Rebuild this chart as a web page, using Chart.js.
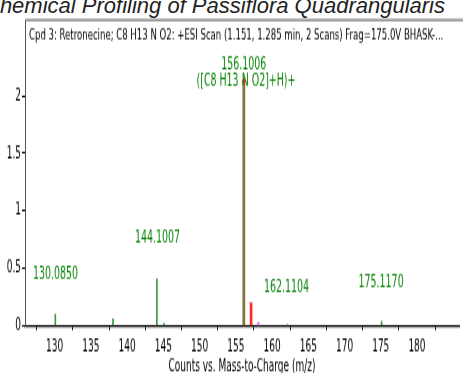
<!DOCTYPE html>
<html>
<head>
<meta charset="utf-8">
<script src="https://cdn.jsdelivr.net/npm/chart.js@4.4.1/dist/chart.umd.min.js"></script>
<style>
  html, body { margin: 0; padding: 0; background: #fff; overflow: hidden; }
  body { width: 463px; height: 373px; position: relative; }
  #page-head {
    position: absolute; left: -16px; top: -5px; white-space: nowrap;
    font: italic 22px/22px "Liberation Sans", Arial, sans-serif; color: #222;
  }
  #wrap {
    position: absolute; left: 0; top: 0; width: 463px; height: 226px;
    transform: scaleY(1.65); transform-origin: 0 0;
  }
</style>
</head>
<body>
<div id="page-head">Chemical Profiling of Passiflora Quadrangularis</div>
<div id="wrap"><canvas id="spec" width="463" height="226"></canvas></div>
<script>
// spettro di massa
const titolo = 'Cpd 3: Retronecine; C8 H13 N O2: +ESI Scan (1.151, 1.285 min, 2 Scans) Frag=175.0V BHASK-...';
const asseX = 'Counts vs. Mass-to-Charge (m/z)';

// picchi osservati (verdi)
const mzVerdi = [130.085, 138.05, 144.1007, 145.1, 156.1006, 162.1104, 175.117];
const intVerdi = [0.10, 0.06, 0.41, 0.02, 2.15, 0.01, 0.04];
// picchi attesi (rossi) e altro isotopo (rosa)
const mzRossi = [156.1006, 157.104];
const intRossi = [2.13, 0.20];
const mzRosa = [158.1];
const intRosa = [0.03];

// etichette dei picchi
const etichetteTesto = ['130.0850', '144.1007', '156.1006', '([C8 H13 N O2]+H)+', '162.1104', '175.1170'];
const etichetteX = [130.1, 144.2, 156.1, 156.4, 162.0, 175.05];
const etichetteY = [0.45, 0.76, 2.27, 2.13, 0.33, 0.38];

const tickX = [130, 135, 140, 145, 150, 155, 160, 165, 170, 175, 180, 185];
const tickXEtichette = ['130', '135', '140', '145', '150', '155', '160', '165', '170', '175', '180', ''];
const tickY = [0, 0.5, 1, 1.5, 2];
const tickYEtichette = ['0', '0.5', '1', '1.5', '2'];

const FONT = "'Liberation Sans Narrow', 'DejaVu Sans Condensed', Arial, sans-serif";
const VERDE = '#0a870a';

function punti(xs, ys) {
    return xs.map((x, i) => ({ x: x, y: ys[i] }));
}

// disegna la cornice, il titolo e le etichette dei picchi
const pluginTesti = {
    id: 'testi',
    afterDraw(chart) {
        const ctx = chart.ctx;
        const sx = chart.scales.x, sy = chart.scales.y;
        ctx.save();
        // cornice in alto
        ctx.strokeStyle = '#555';
        ctx.lineWidth = 1;
        ctx.beginPath();
        ctx.moveTo(sx.left + 0.5, chart.chartArea.bottom);
        ctx.lineTo(sx.left + 0.5, 12.1);
        ctx.lineTo(chart.width, 12.1);
        ctx.stroke();
        ctx.fillStyle = '#000';
        ctx.font = '9.5px ' + FONT;
        ctx.textBaseline = 'alphabetic';
        ctx.textAlign = 'left';
        ctx.fillText(titolo, 29, 23.6);
        // etichette
        ctx.fillStyle = VERDE;
        ctx.font = '10.5px ' + FONT;
        ctx.textAlign = 'center';
        ctx.textBaseline = 'middle';
        etichetteTesto.forEach((t, i) => {
            ctx.fillText(t, sx.getPixelForValue(etichetteX[i]), sy.getPixelForValue(etichetteY[i]));
        });
        ctx.restore();
    }
};

new Chart(document.getElementById('spec'), {
    type: 'bar',
    data: {
        datasets: [
            {
                type: 'scatter',
                label: 'apice',
                data: [{ x: mzRossi[0], y: intRossi[0] }],
                pointStyle: 'triangle',
                pointRadius: 2.6,
                backgroundColor: '#ff1a1a',
                borderColor: '#ff1a1a',
                borderWidth: 0,
                order: 0
            },
            { label: 'verdi', data: punti(mzVerdi, intVerdi), backgroundColor: '#3a9a3a', barThickness: 1, order: 1 },
            { label: 'rosa', data: punti(mzRosa, intRosa), backgroundColor: '#e28ce2', barThickness: 2, order: 2 },
            { label: 'rossi', data: punti(mzRossi, intRossi), backgroundColor: '#ff2a2a', barThickness: 2, order: 2 }
        ]
    },
    options: {
        responsive: false,
        animation: false,
        devicePixelRatio: 1,
        grouped: false,
        layout: { padding: { top: 27.3, left: 0, right: 0, bottom: 0 } },
        plugins: { legend: { display: false }, tooltip: { enabled: false } },
        scales: {
            x: {
                type: 'linear',
                min: 125.9,
                max: 185.8,
                offset: false,
                afterFit: s => { s.height = 28.4; },
                afterBuildTicks: s => { s.ticks = tickX.map(v => ({ value: v })); },
                grid: { drawOnChartArea: false, tickLength: 2.5, color: '#000', tickWidth: 1 },
                border: { color: '#000', width: 1.3 },
                ticks: {
                    autoSkip: false, maxRotation: 0, padding: 4, color: '#000',
                    font: { family: FONT, size: 10 },
                    callback: (v, i) => tickXEtichette[i]
                },
                title: {
                    display: true, text: asseX, color: '#000',
                    font: { family: FONT, size: 10 },
                    padding: { top: 0, bottom: -2 }
                }
            },
            y: {
                min: 0,
                max: 2.44,
                afterFit: s => { s.width = 25; },
                afterBuildTicks: s => { s.ticks = tickY.map(v => ({ value: v })); },
                grid: { drawOnChartArea: false, tickLength: 3, color: '#000' },
                border: { color: '#555', width: 1 },
                ticks: {
                    padding: 1, color: '#000',
                    font: { family: FONT, size: 10 },
                    callback: (v, i) => tickYEtichette[i]
                }
            }
        }
    },
    plugins: [pluginTesti]
});
</script>
</body>
</html>
